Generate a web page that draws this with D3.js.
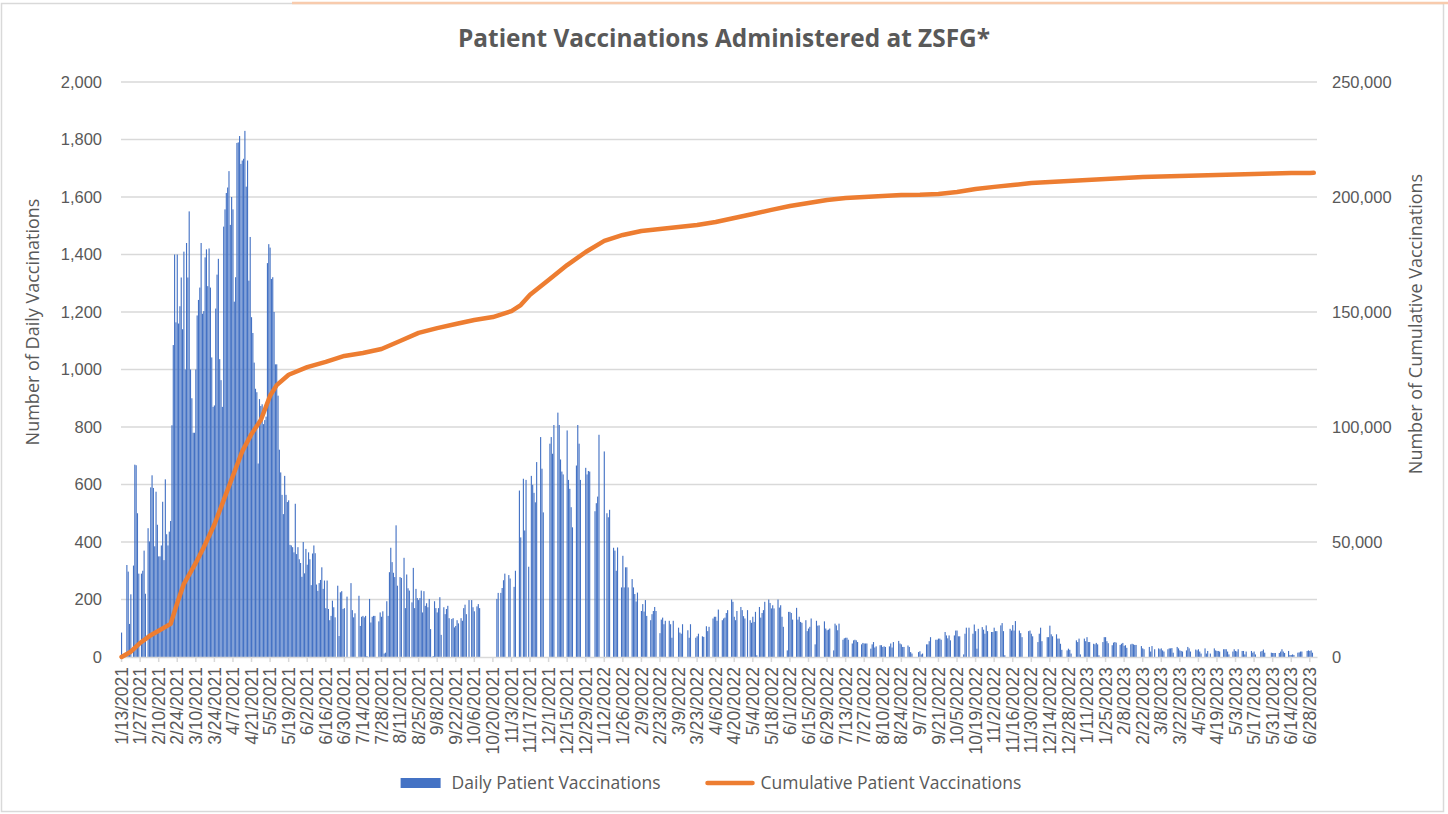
<!DOCTYPE html>
<html>
<head>
<meta charset="utf-8">
<script src="https://cdn.jsdelivr.net/npm/d3@7"></script>
<style>
 body{margin:0;background:#fff;}
 svg{display:block;font-family:"Open Sans",sans-serif;}
</style>
</head>
<body>
<div id="chart"></div>
<script>
// daily patient vaccinations, one row = two weeks (Wed..Tue), first row starts 1/13/2021
var dailyByFortnight = [
 [85, 0, 0, 0, 320, 297, 115, 218, 0, 318, 669, 667, 500, 290],
 [0, 290, 300, 370, 220, 0, 448, 402, 590, 632, 588, 385, 575, 460],
 [350, 350, 388, 540, 337, 618, 427, 388, 436, 473, 806, 1085, 1400, 1164],
 [1400, 1160, 1220, 1320, 1140, 1410, 1000, 1440, 1320, 1550, 1000, 900, 780, 780],
 [1000, 1188, 1242, 1285, 1440, 1194, 1203, 1390, 1418, 1290, 1421, 1285, 1042, 870],
 [875, 1212, 1330, 1385, 1036, 963, 870, 1497, 1557, 1614, 1633, 1690, 1503, 1600],
 [1557, 1236, 1321, 1788, 1790, 1812, 1715, 1727, 1733, 1830, 1636, 1727, 1309, 1461],
 [1182, 1127, 1024, 933, 921, 673, 897, 873, 879, 810, 824, 836, 1370, 1436],
 [1424, 1315, 1321, 1200, 1018, 1018, 909, 721, 642, 564, 497, 630, 564, 539],
 [545, 390, 388, 382, 364, 533, 358, 382, 340, 327, 279, 400, 291, 376],
 [321, 364, 340, 250, 360, 388, 361, 252, 230, 257, 268, 312, 237, 266],
 [170, 266, 167, 128, 143, 196, 173, 138, 0, 248, 73, 225, 229, 167],
 [170, 0, 210, 0, 0, 257, 163, 138, 152, 0, 0, 213, 108, 140],
 [143, 138, 143, 3, 0, 202, 120, 140, 143, 143, 0, 0, 124, 155],
 [140, 159, 12, 15, 194, 143, 295, 380, 330, 293, 278, 458, 248, 0],
 [278, 275, 0, 345, 170, 287, 239, 231, 0, 190, 310, 170, 237, 205],
 [198, 205, 231, 155, 229, 178, 187, 173, 202, 97, 0, 3, 194, 170],
 [155, 170, 208, 77, 0, 173, 149, 167, 178, 135, 0, 132, 135, 103],
 [108, 128, 117, 0, 135, 126, 170, 182, 149, 0, 198, 0, 198, 173],
 [159, 0, 176, 184, 170, 0, 0, 0, 0, 0, 0, 0, 0, 0],
 [0, 0, 0, 202, 223, 0, 223, 240, 267, 290, 0, 0, 285, 273],
 [0, 0, 244, 300, 0, 0, 579, 416, 0, 620, 440, 616, 0, 314],
 [0, 630, 599, 571, 538, 678, 0, 0, 765, 655, 503, 0, 0, 0],
 [0, 742, 765, 707, 807, 0, 0, 850, 807, 687, 645, 635, 0, 0],
 [788, 616, 585, 521, 451, 0, 0, 666, 807, 742, 616, 0, 0, 0],
 [658, 635, 647, 645, 0, 0, 0, 507, 535, 558, 773, 0, 0, 0],
 [715, 0, 500, 486, 512, 0, 0, 380, 370, 300, 381, 0, 0, 242],
 [352, 242, 312, 312, 242, 0, 0, 271, 242, 219, 193, 224, 0, 0],
 [160, 184, 158, 198, 143, 0, 0, 128, 149, 160, 174, 160, 0, 0],
 [83, 130, 137, 114, 126, 0, 0, 126, 114, 67, 126, 0, 0, 0],
 [102, 85, 81, 114, 0, 0, 0, 93, 67, 114, 0, 0, 0, 67],
 [72, 81, 0, 0, 72, 70, 0, 107, 90, 105, 0, 0, 134, 140],
 [140, 126, 165, 0, 0, 128, 134, 137, 153, 163, 0, 0, 200, 192],
 [140, 128, 160, 0, 0, 174, 163, 142, 134, 0, 163, 0, 128, 119],
 [140, 122, 157, 6, 0, 174, 137, 153, 163, 192, 0, 0, 200, 188],
 [169, 180, 169, 0, 0, 200, 172, 180, 140, 105, 0, 0, 23, 157],
 [157, 153, 130, 0, 0, 171, 130, 140, 122, 119, 0, 0, 128, 90],
 [99, 105, 134, 0, 0, 44, 126, 109, 110, 0, 0, 0, 124, 99],
 [93, 95, 99, 0, 0, 23, 116, 110, 93, 116, 0, 0, 60, 65],
 [67, 67, 60, 0, 0, 47, 58, 60, 58, 52, 0, 0, 44, 49],
 [47, 47, 47, 0, 0, 29, 44, 52, 33, 37, 0, 0, 41, 41],
 [35, 37, 35, 0, 0, 37, 47, 33, 52, 0, 0, 0, 56, 47],
 [44, 35, 35, 0, 0, 40, 35, 17, 12, 0, 0, 0, 0, 17],
 [20, 9, 12, 0, 0, 44, 44, 55, 69, 0, 0, 0, 60, 60],
 [64, 64, 60, 0, 0, 87, 75, 65, 75, 58, 0, 0, 75, 92],
 [92, 72, 72, 0, 0, 9, 81, 102, 0, 102, 0, 0, 81, 113],
 [90, 29, 98, 0, 0, 104, 95, 81, 110, 90, 0, 0, 87, 87],
 [102, 90, 90, 0, 0, 110, 118, 90, 6, 0, 0, 0, 98, 92],
 [111, 92, 125, 0, 0, 92, 83, 69, 0, 0, 0, 0, 90, 92],
 [81, 72, 0, 0, 0, 52, 81, 102, 55, 0, 0, 0, 69, 69],
 [109, 79, 72, 0, 0, 79, 64, 64, 46, 25, 0, 0, 0, 23],
 [29, 25, 12, 0, 0, 0, 58, 52, 64, 9, 0, 0, 64, 55],
 [69, 52, 52, 0, 0, 46, 44, 49, 44, 6, 0, 0, 52, 69],
 [69, 55, 48, 0, 0, 41, 50, 52, 50, 0, 0, 42, 46, 49],
 [39, 41, 32, 0, 0, 44, 46, 44, 42, 42, 0, 0, 0, 38],
 [30, 27, 0, 0, 0, 35, 19, 38, 0, 27, 0, 0, 30, 27],
 [30, 23, 19, 0, 0, 27, 30, 30, 31, 15, 0, 0, 35, 30],
 [23, 21, 19, 0, 0, 23, 35, 30, 19, 0, 0, 0, 26, 23],
 [27, 19, 12, 0, 0, 30, 12, 21, 0, 12, 0, 0, 30, 23],
 [21, 21, 19, 0, 0, 27, 27, 27, 19, 9, 0, 0, 19, 27],
 [21, 19, 27, 0, 0, 21, 21, 9, 19, 0, 0, 0, 21, 15],
 [19, 9, 0, 0, 0, 19, 21, 26, 15, 0, 0, 0, 0, 15],
 [14, 14, 14, 0, 0, 14, 19, 27, 19, 14, 0, 0, 21, 7],
 [7, 9, 7, 0, 0, 15, 16, 19, 19, 0, 0, 0, 21, 23],
 [21, 23, 15, 0, 0, 0]
];
var startDate = "1/13/2021";

// cumulative total
var cumDates = ["1/13/2021","1/20/2021","1/27/2021","2/3/2021","2/10/2021","2/19/2021","2/24/2021","3/1/2021",
 "3/10/2021","3/16/2021","3/24/2021","3/31/2021","4/7/2021","4/14/2021","4/21/2021","4/28/2021","5/5/2021",
 "5/10/2021","5/19/2021","6/2/2021","6/16/2021","6/30/2021","7/14/2021","7/28/2021","8/11/2021","8/25/2021",
 "9/8/2021","9/22/2021","10/6/2021","10/20/2021","11/3/2021","11/10/2021","11/17/2021","12/1/2021","12/15/2021",
 "12/29/2021","1/12/2022","1/26/2022","2/9/2022","2/23/2022","3/9/2022","3/23/2022","4/6/2022","4/20/2022",
 "5/4/2022","5/18/2022","6/1/2022","6/15/2022","6/29/2022","7/13/2022","7/27/2022","8/10/2022","8/24/2022",
 "9/7/2022","9/21/2022","10/5/2022","10/19/2022","11/2/2022","11/16/2022","11/30/2022","12/14/2022","12/28/2022",
 "1/11/2023","1/25/2023","2/8/2023","2/22/2023","3/8/2023","3/22/2023","4/5/2023","4/19/2023","5/3/2023",
 "5/17/2023","5/31/2023","6/14/2023","6/28/2023","7/1/2023"];
var cumTotals = [0,2300,6100,9100,11400,14400,23500,31800,
 40900,47700,57600,68200,78800,89400,97000,103000,113600,
 118200,122700,126000,128300,130900,132200,133900,137400,140900,
 143000,144800,146500,147800,150400,153000,157500,163900,170400,
 176100,180900,183500,185200,186100,187000,187800,189100,190900,
 192600,194400,196100,197400,198700,199600,200000,200400,200900,
 201000,201300,202200,203500,204400,205200,206100,206500,207000,
 207400,207800,208300,208700,208900,209100,209400,209600,209800,
 210000,210200,210400,210400,210500];

var leftTicks = [0,200,400,600,800,1000,1200,1400,1600,1800,2000];
var rightTicks = [0,50000,100000,150000,200000,250000];
var seriesNames = ["Daily Patient Vaccinations","Cumulative Patient Vaccinations"];
var chartTitle = "Patient Vaccinations Administered at ZSFG*";
var leftTitle = "Number of Daily Vaccinations";
var rightTitle = "Number of Cumulative Vaccinations";

function drawChart(){
  var width = 1448, height = 814;
  var plotLeft = 121, plotRight = 1317, plotTop = 82, plotBottom = 657;
  var textColor = "#595959", gridColor = "#d9d9d9";
  var barColor = "#4472c4", lineColor = "#ed7d31";

  var parse = d3.timeParse("%m/%d/%Y");
  var fmt = d3.timeFormat("%-m/%-d/%Y");
  var start = parse(startDate);
  var daily = dailyByFortnight.flat();
  var days = daily.map(function(v, i){ return d3.timeDay.offset(start, i); });

  var svg = d3.select("#chart").append("svg")
    .attr("width", width).attr("height", height);

  // frame
  svg.append("rect").attr("x", 1.5).attr("y", 3.5).attr("width", 1442).attr("height", 808)
    .attr("fill", "none").attr("stroke", gridColor).attr("stroke-width", 1.5);
  svg.append("line").attr("x1", 292).attr("x2", width).attr("y1", 3).attr("y2", 3)
    .attr("stroke", "#f8cbad").attr("stroke-width", 2.5);

  var x = d3.scaleBand().domain(d3.range(daily.length)).range([plotLeft, plotRight]).paddingInner(0.15);
  var yL = d3.scaleLinear().domain([0, 2000]).range([plotBottom, plotTop]);
  var yR = d3.scaleLinear().domain([0, 250000]).range([plotBottom, plotTop]);

  // gridlines
  svg.append("g").selectAll("line").data(leftTicks.slice(1)).enter().append("line")
    .attr("x1", plotLeft).attr("x2", plotRight)
    .attr("y1", function(d){ return yL(d); }).attr("y2", function(d){ return yL(d); })
    .attr("stroke", gridColor).attr("stroke-width", 1.5);

  // bars
  svg.append("g").selectAll("rect").data(daily).enter().append("rect")
    .attr("x", function(d, i){ return x(i); })
    .attr("width", x.bandwidth())
    .attr("y", function(d){ return yL(d); })
    .attr("height", function(d){ return plotBottom - yL(d); })
    .attr("fill", barColor);

  // x axis
  var xAxis = svg.append("g").attr("transform", "translate(0," + plotBottom + ")")
    .call(d3.axisBottom(x)
      .tickValues(d3.range(0, daily.length, 14))
      .tickSize(5).tickSizeOuter(0)
      .tickFormat(function(i){ return fmt(days[i]); }));
  xAxis.select(".domain").attr("stroke", gridColor).attr("stroke-width", 1.5);
  xAxis.selectAll(".tick line").attr("stroke", gridColor).attr("stroke-width", 1.5);
  xAxis.selectAll("text")
    .attr("transform", "rotate(-90)")
    .attr("x", -10).attr("y", 0).attr("dy", "0.35em")
    .style("text-anchor", "end")
    .attr("fill", textColor).style("font-size", "17.5px");

  // cumulative line
  var line = d3.line()
    .x(function(d){ return x(d3.timeDay.count(start, parse(d.date))) + x.bandwidth() / 2; })
    .y(function(d){ return yR(d.total); });
  var cum = cumDates.map(function(d, i){ return {date: d, total: cumTotals[i]}; });
  svg.append("path").datum(cum)
    .attr("d", line).attr("fill", "none")
    .attr("stroke", lineColor).attr("stroke-width", 4.5)
    .attr("stroke-linejoin", "round").attr("stroke-linecap", "round");

  // y axes
  var lAxis = svg.append("g").attr("transform", "translate(" + plotLeft + ",0)")
    .call(d3.axisLeft(yL).tickValues(leftTicks).tickSize(0).tickPadding(19).tickFormat(d3.format(",")));
  var rAxis = svg.append("g").attr("transform", "translate(" + plotRight + ",0)")
    .call(d3.axisRight(yR).tickValues(rightTicks).tickSize(0).tickPadding(15).tickFormat(d3.format(",")));
  [lAxis, rAxis].forEach(function(a){
    a.select(".domain").remove();
    a.selectAll("text").attr("fill", textColor).style("font-size", "16.5px");
  });

  // titles
  svg.append("text").attr("x", width / 2).attr("y", 47)
    .attr("text-anchor", "middle").attr("fill", textColor)
    .style("font-size", "24.4px").style("font-weight", "700")
    .text(chartTitle);
  svg.append("text").attr("transform", "translate(33,322) rotate(-90)")
    .attr("text-anchor", "middle").attr("dy", "0.35em").attr("fill", textColor)
    .style("font-size", "18px").text(leftTitle);
  svg.append("text").attr("transform", "translate(1416,324) rotate(-90)")
    .attr("text-anchor", "middle").attr("dy", "0.35em").attr("fill", textColor)
    .style("font-size", "18px").text(rightTitle);

  // legend: swatch, label, gap, line sample, label
  var leg = svg.append("g");
  var t1 = leg.append("text").attr("y", 783).attr("dy", "0.35em").attr("fill", textColor)
    .style("font-size", "17.5px").text(seriesNames[0]);
  var t2 = leg.append("text").attr("y", 783).attr("dy", "0.35em").attr("fill", textColor)
    .style("font-size", "17.5px").text(seriesNames[1]);
  var w1 = t1.node().getComputedTextLength(), w2 = t2.node().getComputedTextLength();
  var total = 40 + 11 + w1 + 47 + 45 + 8 + w2;
  var lx = 711 - total / 2;
  leg.append("rect").attr("x", lx).attr("y", 778).attr("width", 40).attr("height", 10).attr("fill", barColor);
  t1.attr("x", lx + 51);
  var lx2 = lx + 51 + w1 + 47;
  leg.append("line").attr("x1", lx2).attr("x2", lx2 + 45).attr("y1", 783).attr("y2", 783)
    .attr("stroke", lineColor).attr("stroke-width", 4.5).attr("stroke-linecap", "round");
  t2.attr("x", lx2 + 53);
}
drawChart();
</script>
</body>
</html>
